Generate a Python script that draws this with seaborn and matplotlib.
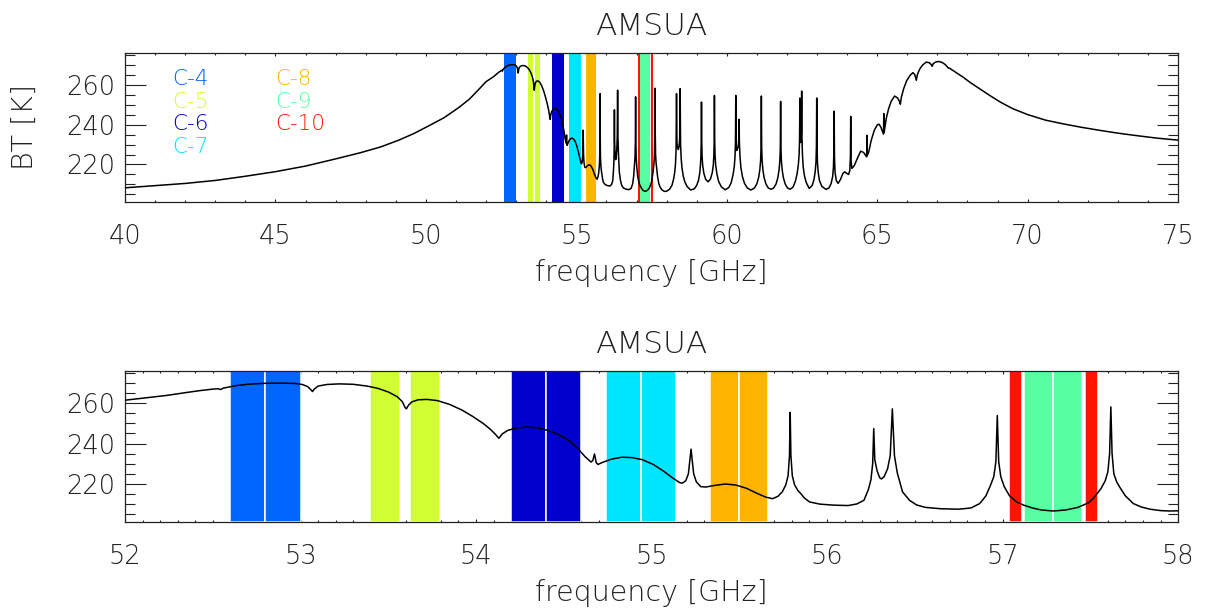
import matplotlib
matplotlib.use("Agg")
import matplotlib.pyplot as plt
import seaborn as sns
import pandas as pd
from matplotlib.ticker import MultipleLocator

# Brightness temperature spectrum [K] versus frequency [GHz], in segments
wing_lo_f = [40.0, 41.0, 42.0, 43.0, 44.0, 45.0, 46.0, 47.0, 47.8, 48.5,
             49.1, 49.6, 50.1, 50.6, 51.1, 51.45, 51.75]
wing_lo_bt = [208.3, 209.4, 210.5, 212.0, 214.1, 216.4, 219.2, 222.8, 225.8, 228.8,
              232.2, 235.5, 239.4, 243.4, 248.6, 252.8, 257.5]

core_f = [52.00, 52.12, 52.24, 52.34, 52.43, 52.50, 52.53, 52.545, 52.56, 52.63,
          52.71, 52.80, 52.90, 52.97, 53.01, 53.04, 53.058, 53.068, 53.078, 53.10,
          53.15, 53.22, 53.30, 53.38, 53.44, 53.50, 53.55, 53.58, 53.595, 53.603,
          53.615, 53.635, 53.67, 53.72, 53.78, 53.85, 53.92, 53.98, 54.04, 54.08,
          54.11, 54.13, 54.15, 54.18, 54.23, 54.29, 54.35, 54.41, 54.47, 54.53,
          54.58, 54.62, 54.655, 54.665, 54.675, 54.685, 54.695, 54.72, 54.77, 54.83,
          54.89, 54.95, 55.01, 55.07, 55.12, 55.16, 55.175, 55.195, 55.21, 55.22,
          55.225, 55.23, 55.24, 55.255, 55.28, 55.31, 55.36, 55.42, 55.48, 55.54,
          55.60, 55.65, 55.69, 55.72, 55.745, 55.765, 55.778, 55.786, 55.79, 55.794,
          55.802, 55.815, 55.835, 55.85, 55.87, 55.90, 55.96, 56.04, 56.12, 56.17,
          56.21, 56.235, 56.25, 56.26, 56.266, 56.272, 56.285, 56.30, 56.31, 56.325,
          56.345, 56.36, 56.372, 56.384, 56.40, 56.43, 56.47, 56.51, 56.56, 56.65,
          56.75, 56.82, 56.87, 56.905, 56.93, 56.95, 56.962, 56.97, 56.978, 56.99,
          57.01, 57.04, 57.08, 57.12, 57.17, 57.22, 57.29, 57.36, 57.43, 57.49,
          57.52, 57.56, 57.585, 57.60, 57.61, 57.617, 57.624, 57.634, 57.65, 57.67,
          57.70, 57.745, 57.79, 57.84, 57.90, 57.95]
core_bt = [261.5, 262.7, 263.9, 265.2, 266.3, 267.0, 267.2, 266.8, 267.5, 268.7,
           269.5, 269.9, 270.0, 269.8, 269.3, 268.3, 266.8, 265.8, 267.0, 268.5,
           269.3, 269.6, 269.4, 268.5, 267.4, 265.6, 263.3, 260.8, 258.0, 257.2,
           259.0, 260.7, 261.7, 261.9, 261.3, 259.4, 256.6, 253.5, 250.0, 247.2,
           244.6, 242.6, 244.8, 246.5, 247.7, 248.2, 247.8, 246.5, 244.5, 241.5,
           237.5, 233.6, 230.8, 231.5, 234.8, 230.5, 229.6, 230.6, 232.2, 233.2,
           233.0, 231.9, 229.6, 226.2, 222.9, 220.6, 220.3, 221.5, 225.0, 233.0,
           237.2, 233.0, 225.0, 221.0, 218.6, 218.4, 219.2, 219.9, 219.4, 217.8,
           215.3, 213.4, 212.6, 213.8, 216.0, 219.5, 224.0, 234.0, 255.5, 234.0,
           224.0, 219.5, 216.5, 215.2, 213.0, 211.0, 209.9, 209.4, 209.2, 210.0,
           211.8, 217.0, 222.0, 230.0, 247.4, 232.0, 226.5, 223.0, 222.4, 223.5,
           227.5, 234.0, 257.2, 234.0, 225.5, 216.0, 211.8, 209.5, 208.3, 207.6,
           207.4, 208.0, 210.2, 214.0, 219.0, 223.5, 231.0, 253.9, 231.0, 223.5,
           218.5, 214.0, 211.0, 209.4, 208.0, 207.0, 206.5, 207.0, 208.3, 210.6,
           213.0, 217.5, 221.5, 226.0, 235.0, 258.2, 235.0, 225.0, 221.0, 218.0,
           214.0, 210.2, 208.5, 207.4, 206.7, 206.5]

lines_f = [58.00, 58.10, 58.18, 58.23, 58.27, 58.295, 58.315, 58.33, 58.345, 58.365,
           58.39, 58.415, 58.435, 58.45, 58.465, 58.485, 58.51, 58.55, 58.60, 58.68,
           58.80, 58.92, 59.00, 59.06, 59.10, 59.125, 59.14, 59.152, 59.16, 59.168,
           59.18, 59.20, 59.24, 59.30, 59.38, 59.46, 59.52, 59.555, 59.572, 59.584,
           59.59, 59.598, 59.61, 59.63, 59.67, 59.73, 59.82, 59.95, 60.07, 60.15,
           60.21, 60.25, 60.275, 60.29, 60.30, 60.31, 60.33, 60.36, 60.385, 60.40,
           60.41, 60.42, 60.44, 60.47, 60.52, 60.59, 60.68, 60.80, 60.92, 61.00,
           61.06, 61.10, 61.125, 61.14, 61.15, 61.16, 61.175, 61.20, 61.24, 61.30,
           61.38, 61.47, 61.56, 61.64, 61.70, 61.74, 61.765, 61.78, 61.79, 61.80,
           61.815, 61.84, 61.88, 61.94, 62.02, 62.11, 62.20, 62.28, 62.34, 62.38,
           62.405, 62.42, 62.43, 62.44, 62.46, 62.48, 62.49, 62.50, 62.515, 62.54,
           62.58, 62.64, 62.74, 62.84, 62.90, 62.94, 62.965, 62.98, 62.99, 63.00,
           63.015, 63.04, 63.08, 63.16, 63.30, 63.40, 63.47, 63.52, 63.545, 63.56,
           63.57, 63.58, 63.60, 63.64, 63.70, 63.78, 63.86, 63.92, 63.98, 64.05,
           64.09, 64.11, 64.12, 64.13, 64.16, 64.24, 64.34, 64.45, 64.55, 64.63,
           64.65, 64.66, 64.67, 64.72, 64.80, 64.90, 65.00, 65.06, 65.12, 65.18,
           65.21, 65.22, 65.23]
lines_bt = [206.6, 207.6, 209.6, 212.5, 216.0, 220.0, 227.0, 255.5, 231.0, 228.5,
            227.5, 229.0, 233.0, 258.0, 230.0, 223.0, 218.5, 214.5, 211.5, 209.0,
            207.2, 207.8, 209.5, 212.0, 215.5, 219.5, 224.0, 232.0, 251.3, 232.0,
            224.0, 219.5, 215.5, 212.5, 211.3, 212.8, 216.0, 220.0, 225.0, 233.0,
            254.6, 233.0, 225.0, 220.0, 215.5, 211.5, 208.8, 207.3, 208.5, 211.0,
            215.0, 219.0, 224.0, 232.0, 254.6, 233.0, 227.0, 228.0, 229.0, 233.0,
            242.6, 231.0, 224.0, 218.5, 214.0, 210.5, 208.3, 207.2, 208.2, 210.3,
            213.5, 217.5, 222.0, 229.0, 254.3, 229.0, 222.0, 217.5, 213.5, 210.3,
            208.2, 207.6, 208.2, 210.3, 213.5, 217.5, 222.0, 229.0, 251.6, 229.0,
            222.0, 217.5, 213.5, 210.3, 208.2, 207.6, 208.6, 211.5, 215.5, 220.0,
            225.0, 233.0, 253.3, 234.0, 231.0, 236.0, 256.8, 234.0, 225.0, 219.0,
            214.5, 211.0, 208.0, 209.5, 212.5, 216.5, 221.0, 229.0, 253.3, 229.0,
            221.0, 216.0, 212.0, 209.0, 207.5, 208.3, 210.5, 214.0, 218.5, 226.0,
            246.7, 224.0, 216.0, 212.0, 210.5, 212.5, 215.5, 216.3, 215.6, 215.0,
            217.0, 224.0, 244.1, 222.0, 218.0, 219.5, 223.0, 226.7, 226.0, 224.3,
            223.8, 234.6, 224.5, 226.3, 232.0, 237.0, 239.8, 240.2, 238.8, 236.5,
            235.2, 245.5, 236.0]

wing_hi_f = [65.30, 65.38, 65.47, 65.58, 65.68, 65.74, 65.77, 65.80, 65.88, 65.98,
             66.10, 66.19, 66.25, 66.30, 66.34, 66.42, 66.52, 66.63, 66.73, 66.80,
             66.83, 66.86, 66.95, 67.05, 67.15, 67.25, 67.33, 67.36, 67.40, 67.50,
             67.65, 67.85, 68.10, 68.40, 68.75, 69.10, 69.50, 70.00, 70.60, 71.20,
             71.80, 72.40, 73.00, 73.60, 74.30, 75.00]
wing_hi_bt = [243.0, 248.0, 251.8, 254.3, 253.3, 251.6, 250.2, 253.5, 258.0, 262.0,
              264.8, 266.0, 265.0, 262.2, 265.3, 268.0, 270.0, 271.3, 271.0, 270.0,
              269.2, 270.5, 271.4, 271.6, 271.2, 270.2, 269.0, 268.3, 268.3, 267.3,
              265.8, 263.8, 261.0, 258.0, 254.5, 251.2, 248.0, 245.0, 242.2, 240.3,
              238.6, 237.1, 235.7, 234.5, 233.2, 232.2]

# AMSU-A temperature sounding channels and their passbands [GHz]
channels = ["C-4", "C-5", "C-6", "C-7", "C-8", "C-9", "C-10"]
channel_colors = ["#0066ff", "#d2ff32", "#0000cc", "#00e5ff", "#ffb400", "#58ffa2", "#ff1400"]
passbands = [
    [(52.60, 52.80), (52.80, 53.00)],
    [(53.396, 53.566), (53.626, 53.796)],
    [(54.20, 54.40), (54.40, 54.60)],
    [(54.74, 54.94), (54.94, 55.14)],
    [(55.335, 55.50), (55.50, 55.665)],
    [(57.125, 57.29), (57.29, 57.455)],
    [(57.034, 57.112), (57.468, 57.546)],
]

title = "AMSUA"
xlabel = "frequency [GHz]"
ylabel = "BT [K]"

spectrum = pd.DataFrame({
    "freq": wing_lo_f + core_f + lines_f + wing_hi_f,
    "bt": wing_lo_bt + core_bt + lines_bt + wing_hi_bt,
})

sns.set_style("ticks")
plt.rcParams["font.family"] = ["DejaVu Sans"]
plt.rcParams["font.weight"] = 200
plt.rcParams["axes.titleweight"] = 200
plt.rcParams["axes.labelweight"] = 200

ink = "#222222"

fig = plt.figure(figsize=(12.15, 6.11), dpi=100)
ax_top = fig.add_axes([0.1029, 0.6694, 0.8667, 0.2443])
ax_bot = fig.add_axes([0.1029, 0.1462, 0.8667, 0.2466])


def style_axes(ax, xmin, xmax, xmajor, xminor):
    ax.set_xlim(xmin, xmax)
    ax.set_ylim(201.2, 276.0)
    ax.xaxis.set_major_locator(MultipleLocator(xmajor))
    ax.xaxis.set_minor_locator(MultipleLocator(xminor))
    ax.yaxis.set_major_locator(MultipleLocator(20))
    ax.yaxis.set_minor_locator(MultipleLocator(5))
    ax.tick_params(axis="x", which="major", direction="in", length=2.3, width=0.8,
                   top=True, bottom=True, labelsize=18.5, pad=16, colors=ink)
    ax.tick_params(axis="x", which="minor", direction="in", length=1.2, width=0.8,
                   top=True, bottom=True, colors=ink)
    ax.tick_params(axis="y", which="major", direction="in", length=15, width=0.8,
                   left=True, right=True, labelsize=18.5, pad=7, colors=ink)
    ax.tick_params(axis="y", which="minor", direction="in", length=7.5, width=0.8,
                   left=True, right=True, colors=ink)
    for side in ax.spines.values():
        side.set_color(ink)
        side.set_linewidth(0.9)
    ax.set_title(title, fontsize=22.5, pad=13, color=ink, fontweight=200)
    ax.set_xlabel(xlabel, fontsize=20.5, labelpad=7, color=ink, fontweight=200)


# Top: full band with the channel passbands
for bands, color in zip(passbands, channel_colors):
    for lo, hi in bands:
        ax_top.axvspan(lo, hi, facecolor=color, edgecolor="none", linewidth=0, zorder=1)
sns.lineplot(data=spectrum, x="freq", y="bt", ax=ax_top, color="black",
             linewidth=1.1, estimator=None, sort=False, zorder=3)
style_axes(ax_top, 40, 75, 5, 1)
ax_top.set_ylabel(ylabel, fontsize=20.5, labelpad=20, color=ink, fontweight=200)

# Channel names, two columns
label_x = [0.045, 0.045, 0.045, 0.045, 0.143, 0.143, 0.143]
label_y = [0.822, 0.672, 0.520, 0.370, 0.822, 0.672, 0.520]
for name, color, lx, ly in zip(channels, channel_colors, label_x, label_y):
    ax_top.text(lx, ly, name, color=color, fontsize=15.5, fontweight=200,
                ha="left", va="center", transform=ax_top.transAxes)

# Bottom: zoom on 52-58 GHz
for bands, color in zip(passbands, channel_colors):
    for lo, hi in bands:
        ax_bot.axvspan(lo, hi, facecolor=color, edgecolor="white", linewidth=1.1, zorder=1)
sns.lineplot(data=spectrum, x="freq", y="bt", ax=ax_bot, color="black",
             linewidth=1.1, estimator=None, sort=False, zorder=3)
style_axes(ax_bot, 52, 58, 1, 0.1)
ax_bot.set_ylabel("")

fig.savefig("out.png", dpi=100)
